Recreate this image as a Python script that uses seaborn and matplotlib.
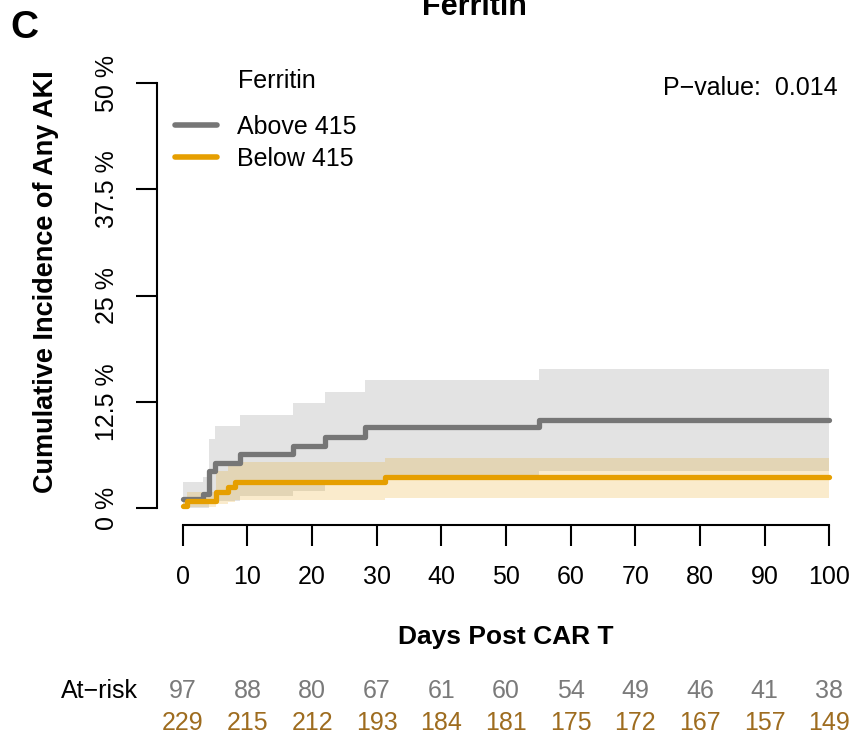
import matplotlib
matplotlib.use("Agg")
import matplotlib.pyplot as plt
import matplotlib.transforms as mtransforms
import seaborn as sns
import pandas as pd

# Cumulative incidence of any AKI (%) by ferritin group, step functions
above_days = [0, 3.1, 4.1, 4.9, 8.8, 17.0, 22.0, 28.2, 31.3, 55.1, 100]
above_cif = [1.05, 1.6, 4.3, 5.3, 6.3, 7.3, 8.4, 9.5, 9.5, 10.4, 10.4]
above_upper = [3.1, 3.6, 8.1, 9.6, 10.9, 12.3, 13.7, 15.1, 15.1, 16.4, 16.4]
above_lower = [0.0, 0.0, 0.5, 0.8, 1.4, 2.0, 2.7, 2.7, 3.9, 4.3, 4.3]

below_days = [0, 0.6, 5.2, 7.0, 8.0, 31.3, 100]
below_cif = [0.2, 0.8, 1.9, 2.5, 3.1, 3.6, 3.6]
below_upper = [1.3, 1.9, 4.3, 4.9, 5.4, 5.85, 5.85]
below_lower = [0.0, 0.1, 0.5, 0.7, 0.9, 1.14, 1.14]

group_names = ["Above 415", "Below 415"]
line_colors = ["#767676", "#E69F00"]
risk_colors = ["#7A7A7A", "#9E6C1F"]

at_risk_days = [0, 10, 20, 30, 40, 50, 60, 70, 80, 90, 100]
above_at_risk = [97, 88, 80, 67, 61, 60, 54, 49, 46, 41, 38]
below_at_risk = [229, 215, 212, 193, 184, 181, 175, 172, 167, 157, 149]

x_ticks = [0, 10, 20, 30, 40, 50, 60, 70, 80, 90, 100]
y_ticks = [0, 12.5, 25, 37.5, 50]
y_tick_labels = ["0 %", "12.5 %", "25 %", "37.5 %", "50 %"]

sns.set_style("ticks")
plt.rcParams["font.family"] = ["Liberation Sans", "DejaVu Sans"]
plt.rcParams["text.color"] = "black"
plt.rcParams["axes.labelcolor"] = "black"

W, H = 854, 737
fig = plt.figure(figsize=(W / 100, H / 100), dpi=100)
ax = fig.add_axes([157 / W, 1 - 525 / H, (855 - 157) / W, (525 - 66) / H])

frames = []
for name, d, c, lo, hi in [
    (group_names[0], above_days, above_cif, above_lower, above_upper),
    (group_names[1], below_days, below_cif, below_lower, below_upper),
]:
    frames.append(pd.DataFrame({"group": name, "day": d, "cif": c, "lower": lo, "upper": hi}))
df = pd.concat(frames, ignore_index=True)

# confidence bands first, lines on top
for name, col in zip(group_names, line_colors):
    sub = df[df["group"] == name]
    ax.fill_between(sub["day"], sub["lower"], sub["upper"], step="post",
                    color=col, alpha=0.2, linewidth=0)

for name, col in zip(group_names, line_colors):
    sub = df[df["group"] == name]
    sns.lineplot(data=sub, x="day", y="cif", color=col, linewidth=3.8,
                 drawstyle="steps-post", estimator=None, sort=False,
                 label=name, ax=ax, solid_capstyle="round",
                 solid_joinstyle="round")

ax.set_xlim(-4, 104)
ax.set_ylim(-2, 52)

sns.despine(ax=ax)
for side in ["left", "bottom"]:
    ax.spines[side].set_linewidth(1.5)
    ax.spines[side].set_color("black")
ax.spines["left"].set_bounds(0, 50)
ax.spines["bottom"].set_bounds(0, 100)

ax.set_xticks(x_ticks)
ax.set_yticks(y_ticks, y_tick_labels, rotation=90, va="center")
ax.tick_params(axis="both", length=15, width=1.5, labelsize=18,
               color="black", labelcolor="black")
ax.tick_params(axis="x", pad=14)
ax.tick_params(axis="y", pad=12)

ax.set_xlabel("Days Post CAR T", fontsize=19, fontweight="bold")
ax.xaxis.set_label_coords(0.5, (525 - 637) / 459)
ax.xaxis.label.set_va("center")
ax.set_ylabel("Cumulative Incidence of Any AKI", fontsize=19.5, fontweight="bold")
ax.yaxis.set_label_coords((46 - 157) / 698, (525 - 282) / 459)
ax.yaxis.label.set_va("center")

leg = ax.legend(loc="upper left", bbox_to_anchor=(175 / W, 1 - 115 / H),
                bbox_transform=fig.transFigure, frameon=False, fontsize=18,
                handlelength=1.7, handletextpad=0.8, labelspacing=0.32,
                borderpad=0, borderaxespad=0)
for ln in leg.get_lines():
    ln.set_linewidth(4.0)
    ln.set_solid_capstyle("round")
fig.text(277 / W, 1 - 81 / H, "Ferritin", ha="center", va="center", fontsize=18)

fig.text(838 / W, 1 - 88 / H, "P\u2212value:  0.014", ha="right", va="center",
         fontsize=18)

fig.text(474 / W, 1 - 15 / H, "Ferritin", ha="center", va="baseline",
         fontsize=22, fontweight="bold")
fig.text(24 / W, 1 - 28 / H, "C", ha="center", va="center", fontsize=28,
         fontweight="bold")

# numbers at risk under the axis
trans = mtransforms.blended_transform_factory(ax.transData, fig.transFigure)
fig.text(138 / W, 1 - 691 / H, "At\u2212risk", ha="right", va="center", fontsize=18)
for d, n_above, n_below in zip(at_risk_days, above_at_risk, below_at_risk):
    ax.text(d, 1 - 691 / H, str(n_above), transform=trans, ha="center",
            va="center", fontsize=18, color=risk_colors[0], clip_on=False)
    ax.text(d, 1 - 723 / H, str(n_below), transform=trans, ha="center",
            va="center", fontsize=18, color=risk_colors[1], clip_on=False)

fig.savefig("out.png", dpi=100)
